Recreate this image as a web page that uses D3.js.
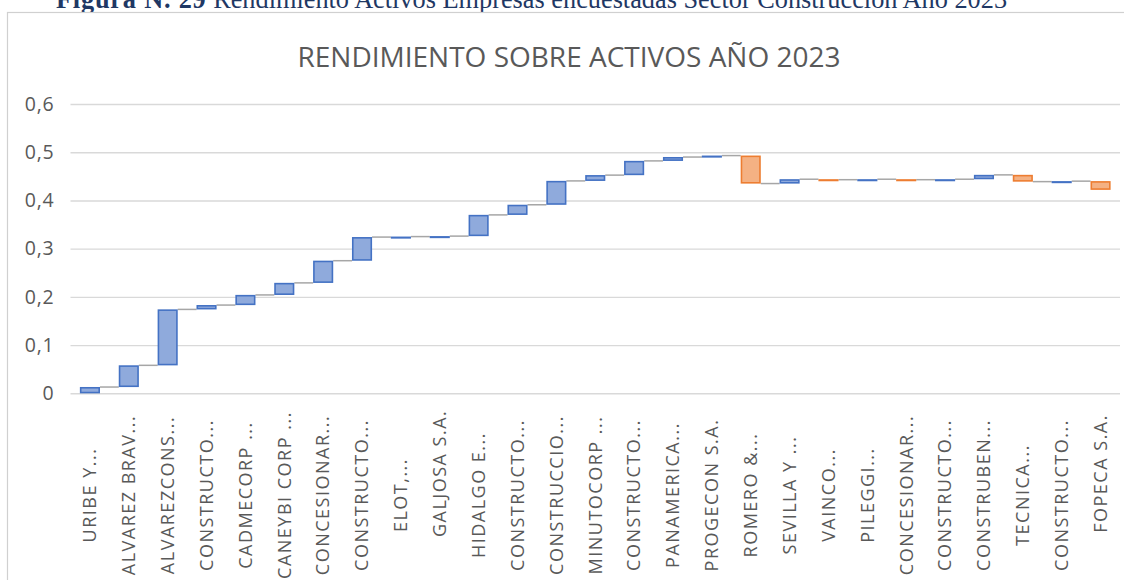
<!DOCTYPE html>
<html>
<head>
<meta charset="utf-8">
<script src="https://cdn.jsdelivr.net/npm/d3@7"></script>
<style>
  body { margin: 0; background: #fff; }
  svg { display: block; }
</style>
</head>
<body>
<svg id="chart" width="1124" height="580"></svg>
<script>
// companies, in the order of the chart (names as truncated by the original)
var companies = ["URIBE Y...", "ALVAREZ BRAV...", "ALVAREZCONS...", "CONSTRUCTO...", "CADMECORP ...",
  "CANEYBI CORP ...", "CONCESIONAR...", "CONSTRUCTO...", "ELOT,...", "\u00a0\u00a0\u00a0\u00a0\u00a0\u00a0\u00a0GALJOSA S.A.",
  "HIDALGO E...", "CONSTRUCTO...", "CONSTRUCCIO...", "MINUTOCORP ...", "CONSTRUCTO...",
  "PANAMERICA...", "PROGECON S.A.", "ROMERO &...", "SEVILLA Y ...", "VAINCO...",
  "PILEGGI...", "CONCESIONAR...", "CONSTRUCTO...", "CONSTRUBEN...", "TECNICA...",
  "CONSTRUCTO...", "\u00a0\u00a0\u00a0\u00a0\u00a0\u00a0\u00a0FOPECA S.A."];

// change in return on assets contributed by each company (waterfall steps)
var deltas = [0.013, 0.045, 0.116, 0.009, 0.021,
  0.025, 0.046, 0.049, 0.001, 0.001,
  0.044, 0.021, 0.0495, 0.012, 0.0295,
  0.008, 0.003, -0.058, 0.009, -0.001,
  0.001, -0.001, 0.001, 0.009, -0.014,
  0.001, -0.018];

var yTicks = [0, 0.1, 0.2, 0.3, 0.4, 0.5, 0.6];

var chartTitle = "RENDIMIENTO SOBRE ACTIVOS AÑO 2023";
var captionBold = "Figura N. 29";
var captionText = " Rendimiento Activos Empresas encuestadas Sector Construcción Año 2023";

(function(d3) {
  var svg = d3.select("#chart");
  var margin = {top: 104, left: 70.5, right: 4, bottom: 186.7};
  var width = 1124 - margin.left - margin.right,
      height = 580 - margin.top - margin.bottom;

  // caption of the document, cut at the top edge
  var cap = svg.append("text")
    .attr("x", 56).attr("y", 8)
    .style("font-family", "'Liberation Serif', 'Times New Roman', serif")
    .style("font-size", "26.3px")
    .attr("fill", "#1F3864");
  cap.append("tspan").style("font-weight", "bold").style("letter-spacing", "0.8px").text(captionBold);
  cap.append("tspan").text(captionText);

  // chart frame
  svg.append("rect")
    .attr("x", 7.5).attr("y", 12.5)
    .attr("width", 1130).attr("height", 600)
    .attr("fill", "#fff")
    .attr("stroke", "#D0D0D0")
    .attr("stroke-width", 1.2);

  svg.append("text")
    .attr("x", 569).attr("y", 67)
    .attr("text-anchor", "middle")
    .style("font-family", "'Open Sans', sans-serif")
    .style("font-size", "28px")
    .attr("fill", "#595959")
    .text(chartTitle);

  var g = svg.append("g").attr("transform", "translate(" + margin.left + "," + margin.top + ")");

  var x = d3.scaleBand()
    .domain(d3.range(companies.length))
    .range([0, width])
    .paddingInner(0.485)
    .paddingOuter(0.2425);

  var y = d3.scaleLinear().domain([0, 0.6]).range([height, 0]);

  var locale = d3.formatLocale({decimal: ",", thousands: ".", grouping: [3], currency: ["", "€"]});
  var fmt = locale.format(".1~f");

  // gridlines
  var grid = g.append("g")
    .call(d3.axisLeft(y).tickValues(yTicks).tickSize(-width).tickFormat(""));
  grid.select(".domain").remove();
  grid.selectAll("line").attr("stroke", "#D9D9D9").attr("stroke-width", 1.4);

  // y axis labels
  var yAxis = g.append("g")
    .call(d3.axisLeft(y).tickValues(yTicks).tickSize(0).tickPadding(16).tickFormat(fmt));
  yAxis.select(".domain").remove();
  yAxis.selectAll("text")
    .style("font-family", "'Open Sans', sans-serif")
    .style("font-size", "19.5px")
    .style("letter-spacing", "0.8px")
    .attr("fill", "#595959");

  // running totals
  var total = 0;
  var steps = deltas.map(function(d, i) {
    var start = total;
    total += d;
    return {i: i, start: start, end: total, value: d};
  });

  // connectors
  g.selectAll(".connector")
    .data(steps.slice(0, -1))
    .enter().append("line")
      .attr("class", "connector")
      .attr("x1", function(d) { return x(d.i) + x.bandwidth(); })
      .attr("x2", function(d) { return x(d.i + 1); })
      .attr("y1", function(d) { return y(d.end); })
      .attr("y2", function(d) { return y(d.end); })
      .attr("stroke", "#A6A6A6")
      .attr("stroke-width", 1.5);

  // bars
  g.selectAll(".bar")
    .data(steps)
    .enter().append("rect")
      .attr("class", "bar")
      .attr("x", function(d) { return x(d.i) + 0.75; })
      .attr("width", x.bandwidth() - 1.5)
      .attr("y", function(d) { return y(Math.max(d.start, d.end)) + 0.75; })
      .attr("height", function(d) { return Math.max(0.5, Math.abs(y(d.start) - y(d.end)) - 1.5); })
      .attr("fill", function(d) { return d.value >= 0 ? "#8FAADC" : "#F4B183"; })
      .attr("stroke", function(d) { return d.value >= 0 ? "#4472C4" : "#ED7D31"; })
      .attr("stroke-width", 1.6);

  // category labels
  g.selectAll(".cat")
    .data(companies)
    .enter().append("text")
      .attr("class", "cat")
      .attr("transform", function(d, i) {
        return "translate(" + (x(i) + x.bandwidth() / 2) + "," + (495 - margin.top) + ") rotate(-90)";
      })
      .attr("text-anchor", "middle")
      .attr("dy", "0.35em")
      .style("white-space", "pre")
      .style("letter-spacing", "1.5px")
      .style("font-family", "'Open Sans', sans-serif")
      .style("font-size", "18px")
      .attr("fill", "#595959")
      .text(function(d) { return d; });
})(window.d3);
</script>
</body>
</html>
